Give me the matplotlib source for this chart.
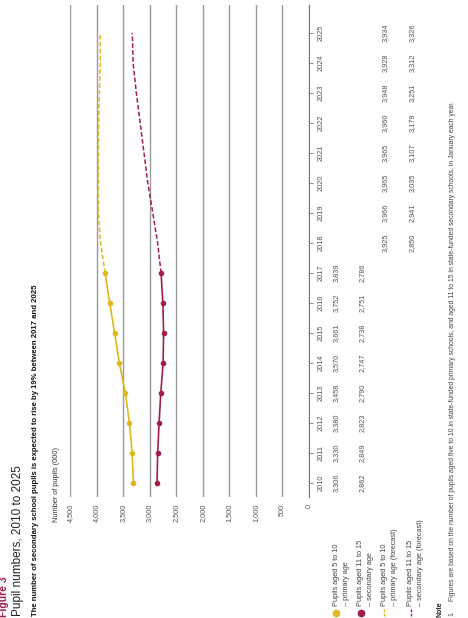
import matplotlib.pyplot as plt
from matplotlib import transforms
from matplotlib.lines import Line2D

plt.rcParams['font.family'] = ['Liberation Sans', 'DejaVu Sans']

# --- Data (pupils, thousands) ---
years = list(range(2010, 2026))
actual_years = list(range(2010, 2018))
forecast_years = list(range(2018, 2026))

primary = [3306, 3330, 3380, 3458, 3570, 3661, 3752, 3839]
secondary = [2862, 2849, 2823, 2790, 2747, 2738, 2751, 2786]
primary_fc = [3925, 3966, 3965, 3965, 3960, 3948, 3928, 3934]
secondary_fc = [2850, 2941, 3035, 3107, 3179, 3251, 3312, 3326]

value_ticks = [0, 500, 1000, 1500, 2000, 2500, 3000, 3500, 4000, 4500]

YELLOW = '#E0B81E'
RED = '#A11D4B'
W, H = 468, 618


def fx(x):
    return x / W


def fy(y):
    return 1 - y / H


fig = plt.figure(figsize=(W / 100, H / 100), dpi=100)
ax = fig.add_axes([fx(70), fy(497), (309 - 70) / W, (497 - 5) / H])
ax.set_xlim(4500, 0)
ax.set_ylim(2009.53, 2025.93)

# gridlines run vertically because the page is turned on its side
ax.set_xticks(value_ticks)
ax.set_xticklabels([f'{v:,}' for v in value_ticks])
ax.grid(axis='x', color='#9a9a9a', lw=1)
ax.set_axisbelow(True)
for s in ['left', 'top', 'bottom']:
    ax.spines[s].set_visible(False)
ax.spines['right'].set_color('#777777')
ax.tick_params(axis='x', length=0, pad=5, labelsize=5.3, labelrotation=90,
               labelcolor='#555555')

ax.set_yticks(years)
ax.tick_params(axis='y', left=False, labelleft=False, right=True, labelright=True,
               length=3, width=0.6, color='#777777', pad=3, labelsize=5.3,
               labelrotation=90, labelcolor='#555555')
for lab in ax.get_yticklabels():
    lab.set_verticalalignment('center')

# lines
ax.plot(primary, actual_years, color=YELLOW, lw=1.2, marker='o', ms=3, zorder=3)
ax.plot(secondary, actual_years, color=RED, lw=1.2, marker='o', ms=3, zorder=3)
ax.plot([primary[-1]] + primary_fc, [actual_years[-1]] + forecast_years,
        color=YELLOW, lw=1.1, ls=(0, (3, 1.5)), zorder=3)
ax.plot([secondary[-1]] + secondary_fc, [actual_years[-1]] + forecast_years,
        color=RED, lw=1.1, ls=(0, (3, 1.5)), zorder=3)

# data table under the chart
tr = transforms.blended_transform_factory(fig.transFigure, ax.transData)
rows = [(336, actual_years, primary), (362, actual_years, secondary),
        (385, forecast_years, primary_fc), (412, forecast_years, secondary_fc)]
for x, yrs, vals in rows:
    for yr, v in zip(yrs, vals):
        ax.text(fx(x), yr, f'{v:,}', transform=tr, rotation=90, ha='center',
                va='center', fontsize=5.3, color='#555555', clip_on=False)

# legend rows
legend = [(336, 'Pupils aged 5 to 10', '– primary age', YELLOW, 'o'),
          (361, 'Pupils aged 11 to 15', '– secondary age', RED, 'o'),
          (384, 'Pupils aged 5 to 10', '– primary age (forecast)', YELLOW, '-'),
          (411, 'Pupils aged 11 to 15', '– secondary age (forecast)', RED, '-')]
for x, l1, l2, c, m in legend:
    if m == 'o':
        fig.add_artist(Line2D([fx(x)], [fy(613)], marker='o', ms=4.5, color=c,
                              transform=fig.transFigure))
    else:
        fig.add_artist(Line2D([fx(x), fx(x)], [fy(616), fy(609)], color=c, lw=1,
                              ls=(0, (2, 1)), transform=fig.transFigure))
    fig.text(fx(x), fy(606), l1, rotation=90, ha='center', va='bottom',
             fontsize=5.3, color='#444444')
    fig.text(fx(x + 10), fy(606), l2, rotation=90, ha='center', va='bottom',
             fontsize=5.3, color='#444444')

# titles
fig.text(fx(4), fy(617), 'Figure 3', rotation=90, ha='center', va='bottom',
         fontsize=7.5, fontweight='bold', color='#A11D4B')
fig.text(fx(18), fy(616), 'Pupil numbers, 2010 to 2025', rotation=90, ha='center',
         va='bottom', fontsize=8.5, color='#222222')
fig.text(fx(36), fy(616),
         'The number of secondary school pupils is expected to rise by 19% between 2017 and 2025',
         rotation=90, ha='center', va='bottom', fontsize=5.6, fontweight='bold',
         color='#111111')
fig.text(fx(56), fy(522), 'Number of pupils (000)', rotation=90, ha='center',
         va='bottom', fontsize=5.3, color='#333333')

# notes
fig.text(fx(440), fy(617), 'Note', rotation=90, ha='center', va='bottom',
         fontsize=5, fontweight='bold', color='#222222')
fig.text(fx(452), fy(616), '1', rotation=90, ha='center', va='bottom',
         fontsize=5, color='#444444')
fig.text(fx(452), fy(601),
         'Figures are based on the number of pupils aged five to 10 in state-funded primary schools, '
         'and aged 11 to 15 in state-funded secondary schools, in January each year.',
         rotation=90, ha='center', va='bottom', fontsize=4.9, color='#444444')

fig.savefig('out.png', dpi=100)
